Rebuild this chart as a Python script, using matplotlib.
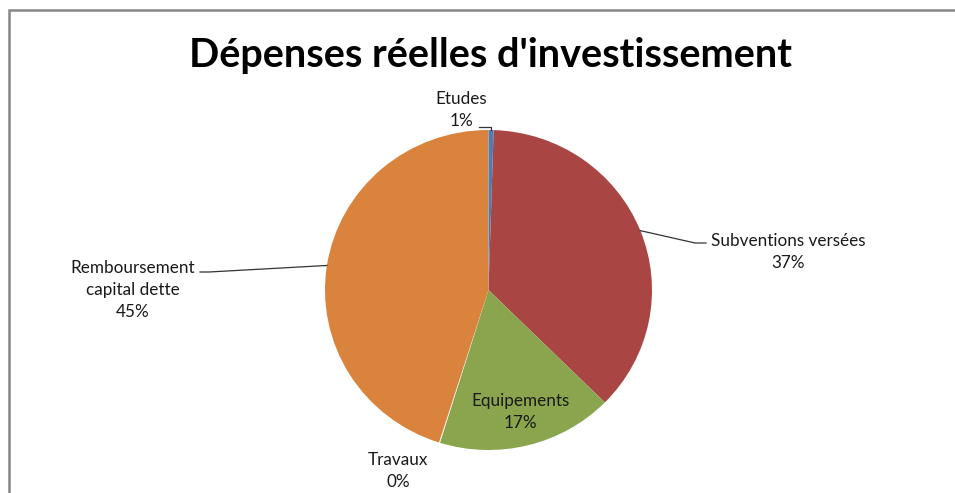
import numpy as np
import matplotlib
matplotlib.use("Agg")
import matplotlib.pyplot as plt
from matplotlib.patches import Rectangle

categories = ["Etudes", "Subventions versées", "Equipements", "Travaux",
              "Remboursement capital dette"]
values = [0.5, 36.9, 17.4, 0.1, 45.1]
pct_labels = ["1%", "37%", "17%", "0%", "45%"]
label_texts = ["Etudes\n1%", "Subventions versées\n37%", "Equipements\n17%",
               "Travaux\n0%", "Remboursement\ncapital dette\n45%"]
colors = ["#4A7EBB", "#A94644", "#8AA54E", "#ECECEC", "#DA833D"]

W, H = 955, 493
plt.rcParams['font.family'] = ['Lato', 'DejaVu Sans']
fig = plt.figure(figsize=(W / 100, H / 100), dpi=100)
ax = fig.add_axes([0, 0, 1, 1])

# pixel geometry of the pie (ellipse in the reference)
cx, cy, rx, ry = 488.5, 290.0, 163.5, 160.0

def px(x, y):
    return ((x - cx) / rx, ((H - y) - (H - cy)) / ry)

wedges, _ = ax.pie(values, colors=colors, startangle=90, counterclock=False,
                   radius=1.0, wedgeprops=dict(edgecolor="none", linewidth=0))
ax.set_aspect('auto')
x0, y0 = px(0, H)
x1, y1 = px(W, 0)
ax.set_xlim(x0, x1)
ax.set_ylim(y0, y1)
ax.axis('off')

def anchor(i):
    w = wedges[i]
    a = np.deg2rad((w.theta1 + w.theta2) / 2)
    return np.cos(a), np.sin(a)

txt_kw = dict(ha='center', va='center', fontsize=12.3, color='#1a1a1a',
              linespacing=1.45)

# label positions (pixels)
label_pos = {0: (461, 110), 1: (788, 252), 2: (520, 412), 3: (398, 471),
             4: (133, 290)}
for i, (x, y) in label_pos.items():
    lx, ly = px(x, y)
    ax.text(lx, ly, label_texts[i], **txt_kw)

lw = 0.9
# Etudes leader
ax0 = anchor(0)
p1 = px(479, 127)
ax.plot([p1[0], ax0[0], ax0[0]], [p1[1], p1[1], ax0[1]], color='#333', lw=lw)
# Subventions leader
a1 = anchor(1)
q1 = px(695, 243); q2 = px(706, 243)
ax.plot([a1[0], q1[0], q2[0]], [a1[1], q1[1], q2[1]], color='#333', lw=lw)
# Remboursement leader
a4 = anchor(4)
r1 = px(200, 272); r2 = px(209, 272)
ax.plot([r1[0], r2[0], a4[0]], [r1[1], r2[1], a4[1]], color='#333', lw=lw)

fig.text(490 / W, 1 - 56 / H, "Dépenses réelles d'investissement",
         ha='center', va='center', fontsize=28.5, fontweight='bold', color='black')

fig.patches.append(Rectangle((9 / W, -0.1), 1.2, 1 - 10.5 / H + 0.1,
                             transform=fig.transFigure, fill=False,
                             edgecolor='#868686', linewidth=1.8))

fig.savefig("out.png", dpi=100)
